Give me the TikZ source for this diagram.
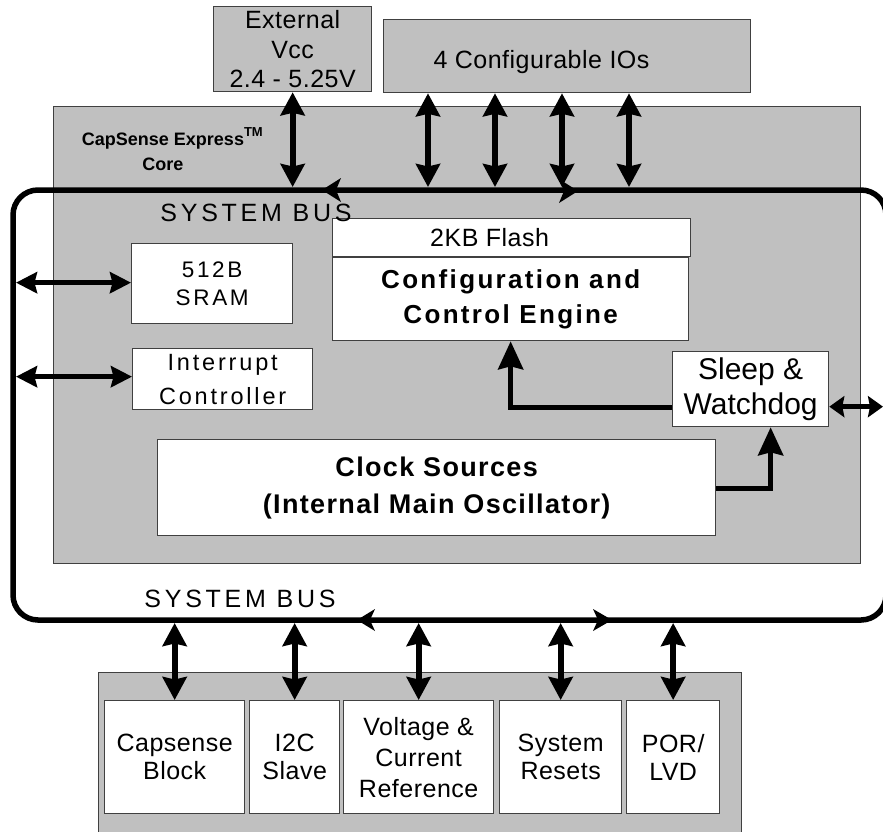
\documentclass[tikz,border=0pt]{standalone}
\usepackage{fontspec}
\setmainfont{Liberation Sans}[LetterSpace=2]
\newfontfamily\widefont{Liberation Sans}[LetterSpace=12]
\newfontfamily\busfont{Liberation Sans}[LetterSpace=15]
\newfontfamily\plainfont{Liberation Sans}
\newfontfamily\cfgfont{Liberation Sans}[LetterSpace=9]
\newfontfamily\clkfont{Liberation Sans}[LetterSpace=5]
\usetikzlibrary{arrows.meta}
\definecolor{coregray}{HTML}{C0C0C0}
\definecolor{edgegray}{HTML}{404040}
\begin{document}
\begin{tikzpicture}[x=1pt,y=-1pt,
  box/.style={draw=edgegray, line width=1.3pt, fill=white, inner sep=0pt,
    align=center, anchor=north west,
    font=\fontsize{25pt}{29pt}\selectfont},
  graybox/.style={box, fill=coregray},
  dbl/.style={line width=6pt,
    {Stealth[length=23pt,width=24pt,inset=2.5pt]}-{Stealth[length=23pt,width=24pt,inset=2.5pt]}},
  hdbl/.style={line width=5pt,
    {Stealth[length=21pt,width=21pt,inset=2.5pt]}-{Stealth[length=21pt,width=21pt,inset=2.5pt]}},
  sdbl/.style={line width=5pt,
    {Stealth[length=15pt,width=21pt,inset=2pt]}-{Stealth[length=15pt,width=21pt,inset=2pt]}},
  one/.style={line width=5pt, -{Stealth[length=28pt,width=25pt,inset=3pt]}},
  busline/.style={line width=5.5pt, rounded corners=25pt},
  bushead/.style={fill=black}
]
\useasboundingbox (0,0) rectangle (883,831);
\clip (0,0) rectangle (883,831);

% main gray blocks
\node[graybox, minimum width=807pt, minimum height=457pt] (core) at (53,106) {};
\node[graybox, minimum width=643pt, minimum height=170pt] (periph) at (98,672) {};
\node[graybox, minimum width=158pt, minimum height=85pt,
  font=\fontsize{25pt}{29.5pt}\selectfont] (vcc) at (213,6) {External\\Vcc\\2.4 - 5.25V};
\node[graybox, minimum width=367pt, minimum height=73pt] (io) at (383,19) {};
\node[font=\fontsize{25pt}{29pt}\selectfont, inner sep=0pt] (iolabel) at (541.5,62) {4 Configurable IOs};

% inner blocks of the core
\node[box, minimum width=358pt, minimum height=38pt] (flash) at (332,218) {2KB Flash\hspace*{44pt}};
\node[box, minimum width=356pt, minimum height=83pt,
  font=\cfgfont\bfseries\fontsize{26pt}{35pt}\selectfont] (cfg) at (332,257)
  {Configuration and\\Control Engine};
\node[box, minimum width=161pt, minimum height=80pt,
  font=\widefont\fontsize{22.5pt}{28pt}\selectfont] (sram) at (131,243) {512B\\SRAM};
\node[box, minimum width=180pt, minimum height=61pt,
  font=\widefont\fontsize{23.5pt}{34pt}\selectfont] (intr) at (132,348) {Interrupt\\Controller};
\node[box, minimum width=156pt, minimum height=75pt,
  font=\plainfont\fontsize{30pt}{35pt}\selectfont] (sleep) at (672,351) {Sleep \&\\Watchdog};
\node[box, minimum width=558pt, minimum height=96pt,
  font=\clkfont\bfseries\fontsize{27pt}{37pt}\selectfont] (clock) at (157,439)
  {Clock Sources\\(Internal Main Oscillator)};

% peripheral blocks
\node[box, minimum width=140pt, minimum height=113pt, font=\fontsize{25pt}{28pt}\selectfont] (caps) at (104,700) {Capsense\\Block};
\node[box, minimum width=90pt, minimum height=113pt, font=\fontsize{25pt}{28pt}\selectfont] (itc) at (249,700) {I2C\\Slave};
\node[box, minimum width=150pt, minimum height=113pt, font=\fontsize{25pt}{31pt}\selectfont] (volt) at (343,700) {Voltage \&\\Current\\Reference};
\node[box, minimum width=122pt, minimum height=113pt, font=\fontsize{25pt}{28pt}\selectfont] (rst) at (499,700) {System\\Resets};
\node[box, minimum width=93pt, minimum height=113pt, font=\fontsize{25pt}{28pt}\selectfont] (por) at (626,700) {POR/\\LVD};

% system bus
\draw[busline] (13,190) rectangle (886,620);
\coordinate (tbus) at (0,187);
\coordinate (bbus) at (0,623);
\coordinate (lbus) at (16,0);
\coordinate (rbus) at (883,0);
\coordinate (io1) at (428,0);
\coordinate (io2) at (495,0);
\coordinate (io3) at (562,0);
\coordinate (io4) at (629,0);

% bus direction heads
\fill[bushead] (322,190) -- (341,178) -- (336,190) -- (341,202) -- cycle;
\fill[bushead] (578,191) -- (559,179) -- (564,191) -- (559,203) -- cycle;
\fill[bushead] (357,620) -- (375,609) -- (370,620) -- (375,631) -- cycle;
\fill[bushead] (612,620) -- (593,609) -- (598,620) -- (593,631) -- cycle;

% top connections
\draw[dbl] (vcc.south) -- (vcc.south |- tbus);
\draw[dbl] (io1 |- io.south) -- (io1 |- tbus);
\draw[dbl] (io2 |- io.south) -- (io2 |- tbus);
\draw[dbl] (io3 |- io.south) -- (io3 |- tbus);
\draw[dbl] (io4 |- io.south) -- (io4 |- tbus);

% left connections
\draw[hdbl] ([yshift=1pt]lbus |- sram.west) -- ([yshift=1pt]sram.west);
\draw[hdbl] ([yshift=2.5pt]lbus |- intr.west) -- ([yshift=2.5pt]intr.west);

% bottom connections
\draw[dbl] (caps.north |- bbus) -- (caps.north);
\draw[dbl] (itc.north |- bbus) -- (itc.north);
\draw[dbl] (volt.north |- bbus) -- (volt.north);
\draw[dbl] (rst.north |- bbus) -- (rst.north);
\draw[dbl] (por.north |- bbus) -- (por.north);

% internal signal paths
\draw[one] ([yshift=-18pt]sleep.west) -| (cfg.south);
\draw[one] ([yshift=-1pt]clock.east) -| ([xshift=20pt]sleep.south);
\draw[sdbl] ([yshift=-17.5pt]sleep.east) -- ([yshift=-17.5pt]rbus |- sleep.east);

% labels
\node[font=\busfont\fontsize{25pt}{29pt}\selectfont, inner sep=0pt] (bustop) at (256,213) {SYSTEM BUS};
\node[font=\busfont\fontsize{25pt}{29pt}\selectfont, inner sep=0pt] (busbot) at (240,599) {SYSTEM BUS};
\node[font=\plainfont\bfseries\fontsize{18pt}{25pt}\selectfont, align=center, inner sep=0pt] (corelabel) at (163,149)
  {CapSense Express\rlap{\raisebox{9pt}{\fontsize{13pt}{13pt}\selectfont TM}}\\Core};
\end{tikzpicture}
\end{document}
